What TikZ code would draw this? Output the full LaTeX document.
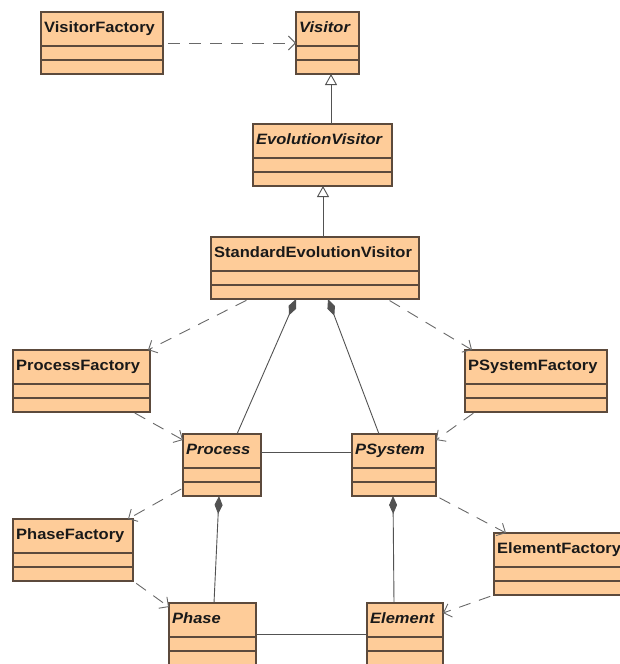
\documentclass[tikz,border=0pt]{standalone}
\usepackage{fontspec}
\setmainfont{Liberation Sans}[FakeStretch=1.1]
\usetikzlibrary{arrows.meta}

\definecolor{classfill}{RGB}{254,204,153}
\definecolor{classline}{RGB}{92,74,60}
\definecolor{linkgray}{RGB}{82,82,82}
\definecolor{deplink}{RGB}{105,105,105}

\tikzset{
  classbox/.style={draw=classline, line width=1.1pt, fill=classfill, anchor=north west,
    minimum height=62pt, inner sep=0pt, outer sep=0pt},
  classname/.style={anchor=base west, inner sep=0pt, text=black!90,
    font=\fontsize{15}{18}\selectfont\bfseries},
  abstractname/.style={classname, font=\fontsize{15}{18}\selectfont\bfseries\itshape},
  divider/.style={draw=classline, line width=1.1pt},
  link/.style={draw=linkgray, line width=0.9pt},
  dependency/.style={draw=deplink, line width=0.9pt, dash pattern=on 12pt off 9pt,
    -{Straight Barb[length=7pt,width=14pt]}},
  inherits/.style={link, -{Triangle[open,length=11pt,width=12pt,fill=white]}},
  composes/.style={link, -{Diamond[length=18pt,width=8pt,fill=linkgray]}},
}

% #1 node name, #2 x, #3 y (top), #4 width, #5 name style, #6 class name
\newcommand\umlclass[6]{%
  \node[classbox, minimum width=#4pt] (#1) at (#2,#3) {};
  \draw[divider] ([yshift=-34pt]#1.north west) -- ([yshift=-34pt]#1.north east);
  \draw[divider] ([yshift=-48pt]#1.north west) -- ([yshift=-48pt]#1.north east);
  \node[#5] (#1-name) at ([xshift=3pt,yshift=-20pt]#1.north west) {#6};
}

\begin{document}
\begin{tikzpicture}[x=1pt, y=-1pt]
  \useasboundingbox (0,0) rectangle (620,664);

  % classes
  \umlclass{visitorFactory}{41}{12}{122}{classname}{VisitorFactory}
  \umlclass{visitor}{296}{12}{63}{abstractname}{Visitor}
  \umlclass{evolutionVisitor}{253}{124}{139}{abstractname}{EvolutionVisitor}
  \umlclass{stdVisitor}{211}{237}{208}{classname}{StandardEvolutionVisitor}
  \umlclass{processFactory}{13}{350}{137}{classname}{ProcessFactory}
  \umlclass{psystemFactory}{465}{350}{142}{classname}{PSystemFactory}
  \umlclass{process}{183}{434}{78}{abstractname}{Process}
  \umlclass{psystem}{352}{434}{84}{abstractname}{PSystem}
  \umlclass{phaseFactory}{13}{519}{120}{classname}{PhaseFactory}
  \umlclass{elementFactory}{494}{533}{140}{classname}{ElementFactory}
  \umlclass{phase}{169}{603}{87}{abstractname}{Phase}
  \umlclass{element}{367}{603}{76}{abstractname}{Element}

  % generalisations
  \draw[inherits] ([xshift=78pt]evolutionVisitor.north west) coordinate (evTop)
    -- (evTop |- visitor.south);
  \draw[inherits] ([xshift=112pt]stdVisitor.north west) coordinate (sevTop)
    -- (sevTop |- evolutionVisitor.south);

  % compositions
  \draw[composes] ([xshift=54pt]process.north west) -- ([xshift=85pt]stdVisitor.south west);
  \draw[composes] ([xshift=27pt]psystem.north west) -- ([xshift=117pt]stdVisitor.south west);
  \draw[composes] ([xshift=45pt]phase.north west) -- ([xshift=36pt]process.south west);
  \draw[composes] ([xshift=27pt]element.north west) -- ([xshift=41pt]psystem.south west);

  % associations
  \draw[link] ([yshift=-18pt]process.north east) -- ([yshift=-18pt]psystem.north west);
  \draw[link] ([yshift=-31pt]phase.north east) -- ([yshift=-31pt]element.north west);

  % dependencies
  \draw[dependency, shorten <=5pt] ([yshift=-31pt]visitorFactory.north east)
    -- ([yshift=-31pt]visitor.north west);
  \draw[dependency, shorten <=3pt] ([xshift=38pt]stdVisitor.south west)
    -- ([xshift=-2pt]processFactory.north east);
  \draw[dependency, shorten <=3pt] ([xshift=-32pt]stdVisitor.south east)
    -- ([xshift=7pt]psystemFactory.north west);
  \draw[dependency, shorten <=2pt] ([xshift=-17pt]processFactory.south east)
    -- ([yshift=-6pt]process.north west);
  \draw[dependency, shorten <=2pt] ([xshift=10pt]psystemFactory.south west)
    -- ([yshift=-6pt]psystem.north east);
  \draw[dependency, shorten <=2pt] ([yshift=8pt]process.south west)
    -- ([xshift=-5pt]phaseFactory.north east);
  \draw[dependency, shorten <=4pt] (psystem.south east)
    -- ([xshift=12pt]elementFactory.north west);
  \draw[dependency, shorten <=4pt] (phaseFactory.south east)
    -- ([yshift=-4pt]phase.north west);
  \draw[dependency, shorten <=4pt] (elementFactory.south west)
    -- ([yshift=-10pt]element.north east);
\end{tikzpicture}
\end{document}
